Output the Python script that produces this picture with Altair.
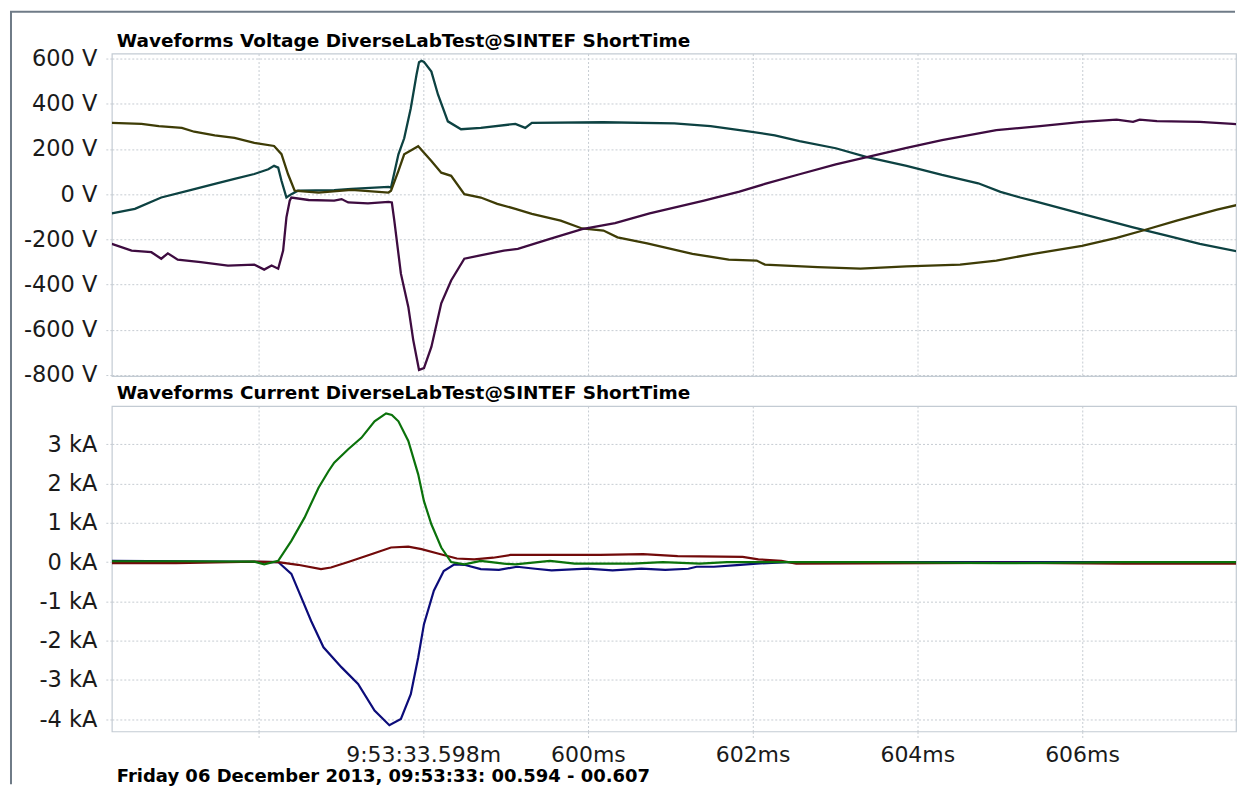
import altair as alt
import pandas as pd

# ---------------- data (time in ms after 09:53:33.000) ----------------
X_DOMAIN = [594.22, 607.87]
x_ticks = [596, 598, 600, 602, 604, 606]
x_tick_labels = ["", "9:53:33.598m", "600ms", "602ms", "604ms", "606ms"]
v_ticks = [-800, -600, -400, -200, 0, 200, 400, 600]
i_ticks = [-4, -3, -2, -1, 0, 1, 2, 3]

volt_title = "Waveforms Voltage DiverseLabTest@SINTEF ShortTime"
curr_title = "Waveforms Current DiverseLabTest@SINTEF ShortTime"
footer = "Friday 06 December 2013, 09:53:33: 00.594 - 00.607"

# Voltage phase 1 (teal)
va_t = [594.22, 594.50, 594.82, 595.15, 595.47, 595.71, 595.95, 596.12, 596.19, 596.24,
        596.28, 596.34, 596.40, 596.48, 596.92, 597.13, 597.58, 597.61, 597.70, 597.77,
        597.85, 597.92, 597.95, 597.98, 598.01, 598.10, 598.18, 598.30, 598.46, 598.70,
        599.12, 599.24, 599.32, 600.19, 601.05, 601.49, 601.93, 602.27, 602.57, 603.01,
        603.39, 603.87, 604.30, 604.74, 605.01, 605.25, 605.41, 606.00, 606.62, 607.03,
        607.43, 607.94]
va_v = [-85, -65, -15, 15, 45, 67, 89, 110, 125, 117,
        59, -15, 0, 15, 18, 23, 32, 29, 176, 247,
        380, 529, 584, 590, 585, 542, 441, 322, 287, 293,
        311, 293, 315, 318, 313, 301, 279, 260, 235, 203,
        164, 125, 85, 48, 10, -15, -30, -87, -147, -184,
        -220, -257]

# Voltage phase 2 (olive)
vb_t = [594.22, 594.58, 594.79, 595.07, 595.22, 595.47, 595.71, 595.95, 596.19, 596.28,
        596.36, 596.44, 596.73, 597.13, 597.58, 597.61, 597.70, 597.77, 597.94, 598.10,
        598.22, 598.34, 598.50, 598.70, 598.90, 599.12, 599.32, 599.67, 599.93, 600.19,
        600.36, 600.72, 601.27, 601.71, 602.05, 602.15, 602.79, 603.31, 603.87, 604.52,
        604.96, 605.41, 606.00, 606.42, 606.74, 607.15, 607.64, 607.94]
vb_v = [315, 311, 301, 293, 276, 260, 249, 227, 213, 177,
        88, 15, 7, 19, 7, 15, 103, 176, 212, 147,
        95, 81, 0, -15, -43, -65, -87, -117, -152, -161,
        -191, -218, -264, -290, -294, -312, -323, -330, -320, -312,
        -294, -264, -229, -194, -161, -117, -69, -43]

# Voltage phase 3 (purple)
vc_t = [594.22, 594.46, 594.70, 594.82, 594.90, 595.02, 595.30, 595.63, 595.95, 596.07,
        596.16, 596.24, 596.30, 596.34, 596.38, 596.40, 596.61, 596.92, 597.01, 597.09,
        597.33, 597.58, 597.62, 597.65, 597.73, 597.82, 597.88, 597.95, 598.01, 598.10,
        598.22, 598.34, 598.50, 598.68, 598.98, 599.15, 599.54, 599.93, 600.33, 600.75,
        601.41, 601.84, 602.15, 602.57, 603.01, 603.44, 603.87, 604.30, 604.96, 605.49,
        606.00, 606.42, 606.62, 606.70, 606.91, 607.43, 607.83, 607.94]
vc_v = [-220, -250, -257, -286, -262, -290, -301, -316, -312, -334,
        -316, -330, -250, -103, -29, -15, -26, -29, -22, -37,
        -41, -34, -37, -117, -352, -499, -646, -778, -770, -676,
        -483, -382, -286, -272, -250, -242, -198, -155, -128, -85,
        -29, 11, 45, 88, 132, 168, 205, 239, 283, 301,
        320, 330, 320, 330, 323, 320, 311, 308]

# Current phase 1 (green), kA
ia_t = [594.22, 595.00, 595.95, 596.07, 596.24, 596.40, 596.56, 596.73, 596.85, 596.92,
        597.09, 597.25, 597.41, 597.55, 597.62, 597.70, 597.82, 597.94, 598.01, 598.10,
        598.22, 598.34, 598.50, 598.70, 598.98, 599.12, 599.54, 599.84, 600.54, 600.91,
        601.36, 601.69, 603.50, 605.00, 606.50, 607.94]
ia_v = [0.02, 0.02, 0.01, -0.06, 0.03, 0.54, 1.13, 1.89, 2.31, 2.53,
        2.87, 3.16, 3.58, 3.78, 3.74, 3.58, 3.08, 2.23, 1.55, 0.96,
        0.37, 0.0, -0.06, 0.03, -0.04, -0.06, 0.03, -0.04, -0.04, 0.0,
        -0.04, 0.0, 0.0, -0.03, 0.0, 0.0]

# Current phase 2 (navy), kA
ib_t = [594.22, 596.24, 596.40, 596.52, 596.64, 596.79, 597.01, 597.21, 597.41, 597.59,
        597.73, 597.85, 597.94, 598.01, 598.13, 598.25, 598.38, 598.50, 598.70, 598.92,
        599.14, 599.36, 599.56, 599.99, 600.30, 600.65, 600.94, 601.22, 601.32, 601.53,
        601.81, 602.05, 602.42, 607.94]
ib_v = [0.03, 0.0, -0.3, -0.9, -1.5, -2.17, -2.68, -3.10, -3.78, -4.15,
        -3.99, -3.36, -2.43, -1.58, -0.73, -0.23, -0.06, -0.07, -0.18, -0.20,
        -0.12, -0.17, -0.21, -0.17, -0.21, -0.17, -0.20, -0.17, -0.12, -0.12,
        -0.08, -0.04, 0.0, 0.0]

# Current phase 3 (dark red), kA
ic_t = [594.22, 595.00, 595.95, 596.24, 596.48, 596.76, 596.88, 597.09, 597.37, 597.61,
        597.82, 597.98, 598.19, 598.41, 598.62, 598.85, 599.06, 600.15, 600.67, 601.09,
        601.88, 602.07, 602.35, 602.53, 605.00, 606.50, 607.94]
ic_v = [-0.03, -0.03, 0.01, 0.0, -0.07, -0.18, -0.14, 0.0, 0.20, 0.37,
        0.39, 0.33, 0.21, 0.09, 0.07, 0.11, 0.18, 0.18, 0.20, 0.15,
        0.13, 0.07, 0.03, -0.04, -0.02, -0.04, -0.04]

# series keys (sorted order = drawing order)
volt_names = ["v1", "v2", "v3"]
volt_colors = ["#0d4242", "#3e3c06", "#3e0c40"]
curr_names = ["c1", "c2", "c3"]          # navy, dark red, green (green drawn last)
curr_colors = ["#0c0c7a", "#720a0a", "#0b720b"]


def long_frame(names, ts, vs):
    rows = []
    for n, t, v in zip(names, ts, vs):
        for a, b in zip(t, v):
            rows.append({"s": n, "t": a, "v": b})
    return pd.DataFrame(rows)


vdf = long_frame(volt_names, [va_t, vb_t, vc_t], [va_v, vb_v, vc_v])
idf = long_frame(curr_names, [ib_t, ic_t, ia_t], [ib_v, ic_v, ia_v])


def label_expr(vals, labels):
    expr = "''"
    for v, l in reversed(list(zip(vals, labels))):
        expr = f"datum.value == {v} ? '{l}' : ({expr})"
    return expr


FONT = "DejaVu Sans, Verdana, sans-serif"
GRID = "#c6ccd2"
FRAME = "#6f7b87"
PW = 1126
VH = 323
IH = 326

xscale = alt.Scale(domain=X_DOMAIN, nice=False, zero=False)

# ---------------- voltage panel ----------------
v_lines = alt.Chart(vdf).mark_line(strokeWidth=2.3, clip=True).encode(
    x=alt.X("t:Q", scale=xscale,
            axis=alt.Axis(values=x_ticks, labels=False, ticks=False, title=None)),
    y=alt.Y("v:Q", scale=alt.Scale(domain=[-805, 622], nice=False, zero=False),
            axis=alt.Axis(values=v_ticks, labelExpr="datum.value + ' V'", title=None,
                          tickSize=8, labelPadding=7)),
    color=alt.Color("s:N", scale=alt.Scale(domain=volt_names, range=volt_colors), legend=None),
)
v_title = alt.Chart(pd.DataFrame({"txt": [volt_title]})).mark_text(
    align="left", baseline="alphabetic", font=FONT, fontSize=18.5, fontWeight="bold", color="#000000"
).encode(x=alt.value(5), y=alt.value(-7), text="txt:N")
frame_top = alt.Chart(pd.DataFrame({"a": [0]})).mark_rule(color=FRAME, strokeWidth=2).encode(
    x=alt.value(-102), x2=alt.value(PW - 1), y=alt.value(-42))
frame_left = alt.Chart(pd.DataFrame({"a": [0]})).mark_rule(color=FRAME, strokeWidth=2).encode(
    x=alt.value(-101), y=alt.value(-42), y2=alt.value(732))

volt_panel = alt.layer(frame_top, frame_left, v_lines, v_title).properties(width=PW, height=VH)

# ---------------- current panel ----------------
i_lines = alt.Chart(idf).mark_line(strokeWidth=2.2, clip=True).encode(
    x=alt.X("t:Q", scale=xscale,
            axis=alt.Axis(values=x_ticks, labelExpr=label_expr(x_ticks, x_tick_labels),
                          title=None, tickSize=7, labelPadding=6, labelOverlap=False,
                          labelFontSize=22)),
    y=alt.Y("v:Q", scale=alt.Scale(domain=[-4.31, 3.97], nice=False, zero=False),
            axis=alt.Axis(values=i_ticks, labelExpr="datum.value + ' kA'", title=None,
                          tickSize=8, labelPadding=7)),
    color=alt.Color("s:N", scale=alt.Scale(domain=curr_names, range=curr_colors), legend=None),
)
i_title = alt.Chart(pd.DataFrame({"txt": [curr_title]})).mark_text(
    align="left", baseline="alphabetic", font=FONT, fontSize=18.5, fontWeight="bold", color="#000000"
).encode(x=alt.value(5), y=alt.value(-7), text="txt:N")
i_footer = alt.Chart(pd.DataFrame({"txt": [footer]})).mark_text(
    align="left", baseline="alphabetic", font=FONT, fontSize=18, fontWeight="bold", color="#000000"
).encode(x=alt.value(5), y=alt.value(IH + 51), text="txt:N")

curr_panel = alt.layer(i_lines, i_title, i_footer).properties(width=PW, height=IH)

chart = alt.vconcat(volt_panel, curr_panel, spacing=30, bounds="flush").resolve_scale(
    color="independent", y="independent"
).properties(
    padding={"left": 0, "top": 1, "right": 0, "bottom": 0},
    background="#ffffff",
).configure_view(
    stroke="#c3cbd3", strokeWidth=1.2
).configure_axis(
    grid=True, gridColor=GRID, gridDash=[2, 2], gridWidth=1,
    tickColor=GRID, tickDash=[2, 2], tickWidth=1,
    domain=False,
    labelFont=FONT, labelFontSize=22.5, labelColor="#1a1a1a",
)

chart.save("out.html", embed_options={"renderer": "svg", "actions": False})
